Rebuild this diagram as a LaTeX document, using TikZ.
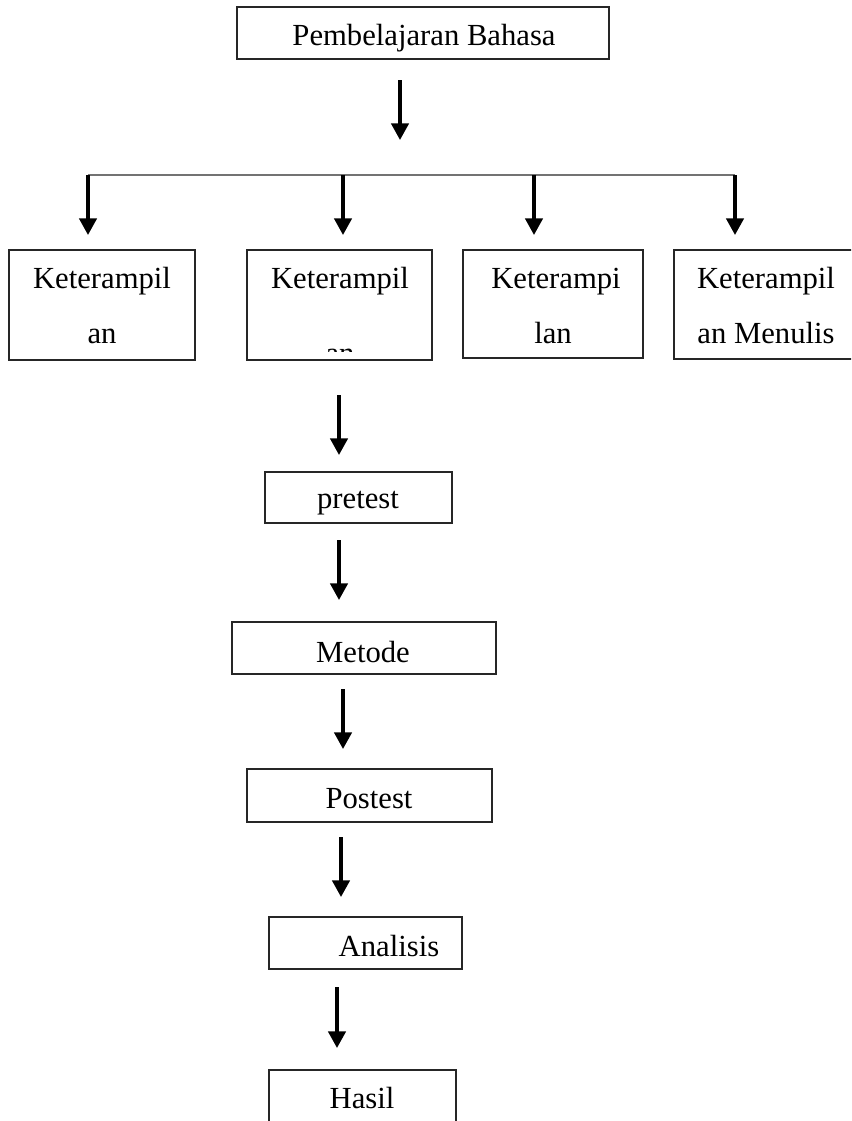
\documentclass[tikz,border=0pt]{standalone}
\usepackage{fontspec}
\setmainfont{Liberation Serif}
\usetikzlibrary{arrows.meta,fit}
\begin{document}
\begin{tikzpicture}[x=0.75pt,y=-0.75pt,
  box/.style={draw=black!85, line width=0.9pt, inner sep=0pt, outer sep=0pt},
  lbl/.style={inner sep=0pt, anchor=base, font=\fontsize{23}{27}\selectfont},
  arr/.style={line width=2.6pt, -{Triangle[width=13pt,length=12.5pt]}},
  bus/.style={draw=black!55, line width=1pt}]
\clip (0,0) rectangle (851,1121);
\fill[white] (0,0) rectangle (851,1121);

% boxes
\node[box, fit={(237,7) (609,59)}] (top) {};
\node[box, fit={(9,250) (195,360)}] (k1) {};
\node[box, fit={(247,250) (432,360)}] (k2) {};
\node[box, fit={(463,250) (643,358)}] (k3) {};
\node[box, fit={(674,250) (858,359)}] (k4) {};
\node[box, fit={(265,472) (452,523)}] (pre) {};
\node[box, fit={(232,622) (496,674)}] (met) {};
\node[box, fit={(247,769) (492,822)}] (post) {};
\node[box, fit={(269,917) (462,969)}] (ana) {};
\node[box, fit={(269,1070) (456,1135)}] (has) {};

% labels
\node[lbl] (ttop) at (424,45) {Pembelajaran Bahasa};
\node[lbl] (t1a) at (102,288) {Keterampil};
\node[lbl] (t1b) at (102,343) {an};
\node[lbl] (t2a) at (340,288) {Keterampil};
\begin{scope}
  \clip (247,250) rectangle (432,351);
  \node[lbl] (t2b) at (340,363) {an};
\end{scope}
\node[lbl] (t3a) at (556,288) {Keterampi};
\node[lbl] (t3b) at (553,343) {lan};
\node[lbl] (t4a) at (766,288) {Keterampil};
\node[lbl] (t4b) at (766,343) {an Menulis};
\node[lbl] (tpre) at (358,508) {pretest};
\node[lbl] (tmet) at (363,662) {Metode};
\node[lbl] (tpost) at (369,808) {Postest};
\node[lbl] (tana) at (389,956) {Analisis};
\node[lbl] (thas) at (362,1108) {Hasil};

% connector coordinates
\coordinate (a0s) at (400,80);   \coordinate (a0e) at (400,140);
\coordinate (busL) at (88,175);  \coordinate (busR) at (735,175);
\coordinate (b1s) at (88,175);   \coordinate (b1e) at (88,235);
\coordinate (b2s) at (343,175);  \coordinate (b2e) at (343,235);
\coordinate (b3s) at (534,175);  \coordinate (b3e) at (534,235);
\coordinate (b4s) at (735,175);  \coordinate (b4e) at (735,235);
\coordinate (c1s) at (339,395);  \coordinate (c1e) at (339,455);
\coordinate (c2s) at (339,540);  \coordinate (c2e) at (339,600);
\coordinate (c3s) at (343,689);  \coordinate (c3e) at (343,749);
\coordinate (c4s) at (341,837);  \coordinate (c4e) at (341,897);
\coordinate (c5s) at (337,987);  \coordinate (c5e) at (337,1048);

\draw[arr] (a0s) -- (a0e);
\draw[bus] (busL) -- (busR);
\draw[arr] (b1s) -- (b1e);
\draw[arr] (b2s) -- (b2e);
\draw[arr] (b3s) -- (b3e);
\draw[arr] (b4s) -- (b4e);
\draw[arr] (c1s) -- (c1e);
\draw[arr] (c2s) -- (c2e);
\draw[arr] (c3s) -- (c3e);
\draw[arr] (c4s) -- (c4e);
\draw[arr] (c5s) -- (c5e);
\end{tikzpicture}
\end{document}
